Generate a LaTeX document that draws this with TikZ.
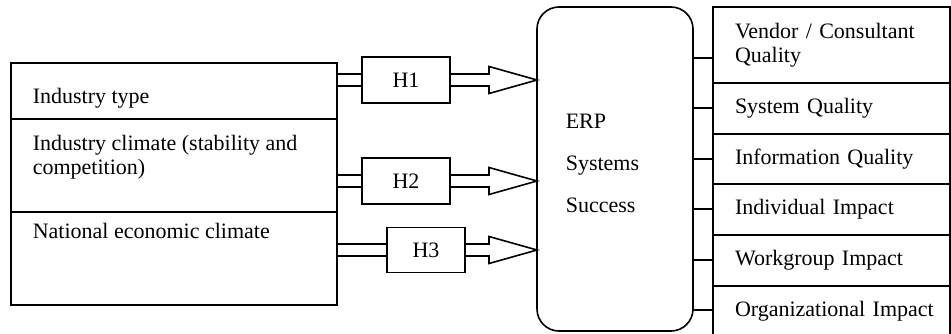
\documentclass[tikz,border=0pt]{standalone}
\usepackage{fontspec}
\setmainfont{Liberation Serif}
\usepackage{tikz}
\usetikzlibrary{positioning,calc}

\begin{document}
\begin{tikzpicture}[x=1pt, y=1pt, line width=1.6pt, every node/.style={font=\fontsize{22}{24}\selectfont},
    rowbox/.style={draw, rectangle, outer sep=0pt, inner sep=0pt, minimum width=326},
    hypbox/.style={draw, rectangle, fill=white, minimum height=46},
    outbox/.style={draw, rectangle, outer sep=0pt, inner xsep=22, inner ysep=0pt, minimum width=237, text width=193, align=left},
    lbl/.style={inner sep=0pt, align=left}]
    \clip (0,0) rectangle (951,333);

    % antecedents
    \node[rowbox, minimum height=56, anchor=north west] (indtype) at (11,270) {};
    \node[rowbox, minimum height=93] (indclim) [below=0pt of indtype] {};
    \node[rowbox, minimum height=93] (natecon) [below=0pt of indclim] {};
    \node[lbl, anchor=base west] (typelbl) at ([xshift=21, yshift=16]indtype.south west) {Industry type};
    \node[lbl, anchor=north west] (climlbl) at ([xshift=21, yshift=-15]indclim.north west) {Industry climate (stability and\\competition)};
    \node[lbl, anchor=base west] (econlbl) at ([xshift=21, yshift=-26]natecon.north west) {National economic climate};

    % ERP success
    \node[draw, rectangle, rounded corners=22, minimum width=156, minimum height=324, outer sep=0pt, anchor=north west] (erp) at (537,326) {};
    \node[lbl, anchor=north west, font=\fontsize{22}{42}\selectfont] (erplbl) at ([xshift=28, yshift=-106]erp.north west) {ERP\\Systems\\Success};

    % hypotheses
    \node[hypbox, minimum width=88] (H1) at (406,253) {H1};
    \node[hypbox, minimum width=88] (H2) at (406,152) {H2};
    \node[hypbox, minimum width=78, minimum height=45] (H3) at (426,83) {H3};

    \coordinate (t1) at (erp.west |- H1.east);
    \coordinate (t2) at (erp.west |- H2.east);
    \coordinate (t3) at (erp.west |- H3.east);

    \draw ([yshift=6]H1.west) -- ([yshift=6]H1.west -| indtype.east) ([yshift=-6]H1.west) -- ([yshift=-6]H1.west -| indtype.east);
    \draw ([yshift=6]H2.west) -- ([yshift=6]H2.west -| indclim.east) ([yshift=-6]H2.west) -- ([yshift=-6]H2.west -| indclim.east);
    \draw ([yshift=6]H3.west) -- ([yshift=6]H3.west -| natecon.east) ([yshift=-6]H3.west) -- ([yshift=-6]H3.west -| natecon.east);

    \draw ([yshift=6]H1.east) -- ([xshift=-48, yshift=6]t1) -- ([xshift=-48, yshift=13.5]t1) -- (t1) -- ([xshift=-48, yshift=-13.5]t1) -- ([xshift=-48, yshift=-6]t1) -- ([yshift=-6]H1.east);
    \draw ([yshift=6]H2.east) -- ([xshift=-48, yshift=6]t2) -- ([xshift=-48, yshift=13.5]t2) -- (t2) -- ([xshift=-48, yshift=-13.5]t2) -- ([xshift=-48, yshift=-6]t2) -- ([yshift=-6]H2.east);
    \draw ([yshift=6]H3.east) -- ([xshift=-48, yshift=6]t3) -- ([xshift=-48, yshift=13.5]t3) -- (t3) -- ([xshift=-48, yshift=-13.5]t3) -- ([xshift=-48, yshift=-6]t3) -- ([yshift=-6]H3.east);

    % success dimensions
    \node[outbox, minimum height=76, anchor=north west] (vcq) at (713,326) {Vendor / Consultant\\Quality};
    \node[outbox, minimum height=51] (sysq) [below=0pt of vcq] {System Quality};
    \node[outbox, minimum height=50] (infq) [below=0pt of sysq] {Information Quality};
    \node[outbox, minimum height=51] (indimp) [below=0pt of infq] {Individual Impact};
    \node[outbox, minimum height=51] (wgimp) [below=0pt of indimp] {Workgroup Impact};
    \node[outbox, minimum height=51] (orgimp) [below=0pt of wgimp] {\mbox{Organizational Impact}};

    \foreach \y in {275,225,174,124,73,23}
        \draw (erp.east |- 0,\y) -- (vcq.west |- 0,\y);
\end{tikzpicture}
\end{document}
